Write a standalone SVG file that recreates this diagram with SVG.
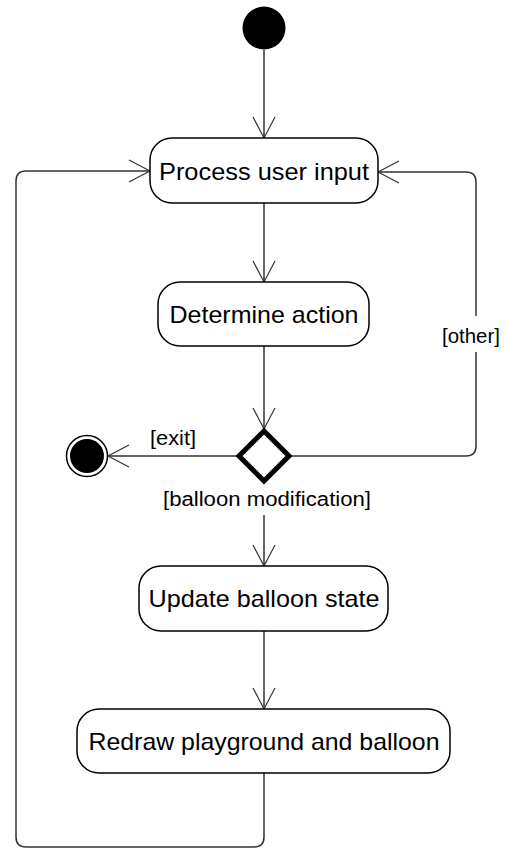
<svg xmlns="http://www.w3.org/2000/svg" width="507" height="849" viewBox="0 0 507 849">
  <defs>
    <marker id="open" viewBox="0 0 24 24" markerWidth="24" markerHeight="24" refX="22" refY="12" orient="auto" markerUnits="userSpaceOnUse">
      <path d="M1,1 L22,12 L1,23" fill="none" stroke="#333" stroke-width="1.2"/>
    </marker>
    <style>
      .act { fill: #fff; stroke: #000; stroke-width: 1.5; }
      .lbl { font-family: "Liberation Sans", Arial, sans-serif; font-size: 24px; fill: #000; text-anchor: middle; }
      .grd { font-family: "Liberation Sans", Arial, sans-serif; font-size: 20px; fill: #000; text-anchor: middle; }
      .flow { fill: none; stroke: #333; stroke-width: 1.5; }
      .arr { marker-end: url(#open); }
    </style>
  </defs>
  <rect width="507" height="849" fill="#fff"/>

  <g id="connectors">
    <path class="flow arr" d="M264,50 V138"/>
    <path class="flow arr" d="M264,203 V282"/>
    <path class="flow arr" d="M264,346 V429"/>
    <path class="flow arr" d="M237,456 H108"/>
    <path class="flow arr" d="M290,456 H466 Q476,456 476,446 V182 Q476,172 466,172 H378"/>
    <path class="flow arr" d="M264,515 V566"/>
    <path class="flow arr" d="M264,631 V709"/>
    <path class="flow arr" d="M264,773 V837 Q264,847 254,847 H26 Q16,847 16,837 V181 Q16,171 26,171 H150"/>
  </g>

  <g id="guards">
    <rect x="438" y="316" width="66" height="36" fill="#fff"/>
    <text class="grd" x="471" y="343" textLength="58" lengthAdjust="spacingAndGlyphs">[other]</text>
    <text class="grd" x="173" y="445" textLength="46" lengthAdjust="spacingAndGlyphs">[exit]</text>
    <text class="grd" x="267" y="506" textLength="208" lengthAdjust="spacingAndGlyphs">[balloon modification]</text>
  </g>

  <g id="start">
    <circle cx="264" cy="28" r="21.5" fill="#000"/>
  </g>

  <g id="process-input">
    <rect class="act" x="150" y="138" width="228" height="65" rx="22"/>
    <text class="lbl" x="264" y="180" textLength="210" lengthAdjust="spacingAndGlyphs">Process user input</text>
  </g>

  <g id="determine-action">
    <rect class="act" x="158" y="282" width="211" height="64" rx="22"/>
    <text class="lbl" x="264" y="323" textLength="189" lengthAdjust="spacingAndGlyphs">Determine action</text>
  </g>

  <g id="decision">
    <path d="M264,431 L289,456 L264,481 L239,456 Z" fill="#fff" stroke="#000" stroke-width="5"/>
  </g>

  <g id="end">
    <circle cx="87" cy="456" r="20.5" fill="#fff" stroke="#000" stroke-width="1.5"/>
    <circle cx="87" cy="456" r="17" fill="#000"/>
  </g>

  <g id="update-state">
    <rect class="act" x="139" y="566" width="249" height="65" rx="22"/>
    <text class="lbl" x="264" y="607" textLength="231" lengthAdjust="spacingAndGlyphs">Update balloon state</text>
  </g>

  <g id="redraw">
    <rect class="act" x="77" y="709" width="373" height="64" rx="22"/>
    <text class="lbl" x="264" y="750" textLength="351" lengthAdjust="spacingAndGlyphs">Redraw playground and balloon</text>
  </g>
</svg>
